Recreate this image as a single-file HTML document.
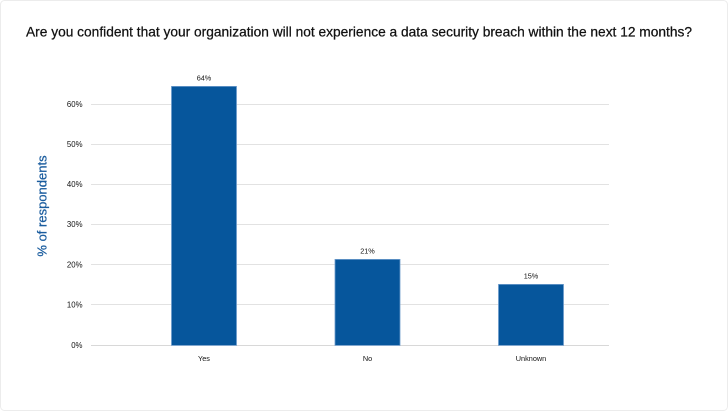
<!DOCTYPE html>
<html>
<head>
<meta charset="utf-8">
<style>
  html,body{margin:0;padding:0;background:#fff;}
  svg{display:block;}
  text{font-family:"Liberation Sans",Arial,sans-serif;}
</style>
</head>
<body>
<svg width="728" height="411" viewBox="0 0 728 411" xmlns="http://www.w3.org/2000/svg">
  <rect x="0.5" y="0.5" width="727" height="410" rx="4" ry="4" fill="#fff" stroke="#ececec" stroke-width="1"/>
  <text x="26" y="36.5" font-size="14" fill="#111" stroke="#111" stroke-width="0.25" textLength="666" lengthAdjust="spacingAndGlyphs">Are you confident that your organization will not experience a data security breach within the next 12 months?</text>

  <!-- gridlines -->
  <g stroke="#e2e2e2" stroke-width="1" shape-rendering="crispEdges">
    <line x1="91" y1="104.5" x2="609" y2="104.5"/>
    <line x1="91" y1="144.5" x2="609" y2="144.5"/>
    <line x1="91" y1="184.5" x2="609" y2="184.5"/>
    <line x1="91" y1="224.5" x2="609" y2="224.5"/>
    <line x1="91" y1="264.5" x2="609" y2="264.5"/>
    <line x1="91" y1="304.5" x2="609" y2="304.5"/>
    <line x1="91" y1="345.5" x2="609" y2="345.5" stroke="#d8d8d8"/>
  </g>

  <!-- y tick labels -->
  <g font-size="7.8" fill="#111" text-anchor="end">
    <text x="82.5" y="107">60%</text>
    <text x="82.5" y="147">50%</text>
    <text x="82.5" y="187">40%</text>
    <text x="82.5" y="227">30%</text>
    <text x="82.5" y="267.5">20%</text>
    <text x="82.5" y="307.5">10%</text>
    <text x="82.5" y="348">0%</text>
  </g>

  <!-- y axis title -->
  <text transform="translate(46.5,206) rotate(-90)" font-size="13" fill="#1a5c9e" stroke="#1a5c9e" stroke-width="0.25" text-anchor="middle">% of respondents</text>

  <!-- bars -->
  <g fill="#06569c" stroke="#6d9bcc" stroke-width="0.8">
    <rect x="171.5" y="86.4" width="65" height="259"/>
    <rect x="335" y="259.4" width="65" height="86"/>
    <rect x="498.5" y="284.4" width="65" height="61"/>
  </g>

  <!-- value labels -->
  <g font-size="7.3" fill="#111" text-anchor="middle">
    <text x="204" y="80.5">64%</text>
    <text x="367.5" y="253.5">21%</text>
    <text x="531" y="278.5">15%</text>
  </g>

  <!-- category labels -->
  <g font-size="7.3" fill="#111" text-anchor="middle">
    <text x="204" y="361">Yes</text>
    <text x="367.5" y="361">No</text>
    <text x="531" y="361">Unknown</text>
  </g>
</svg>
</body>
</html>
